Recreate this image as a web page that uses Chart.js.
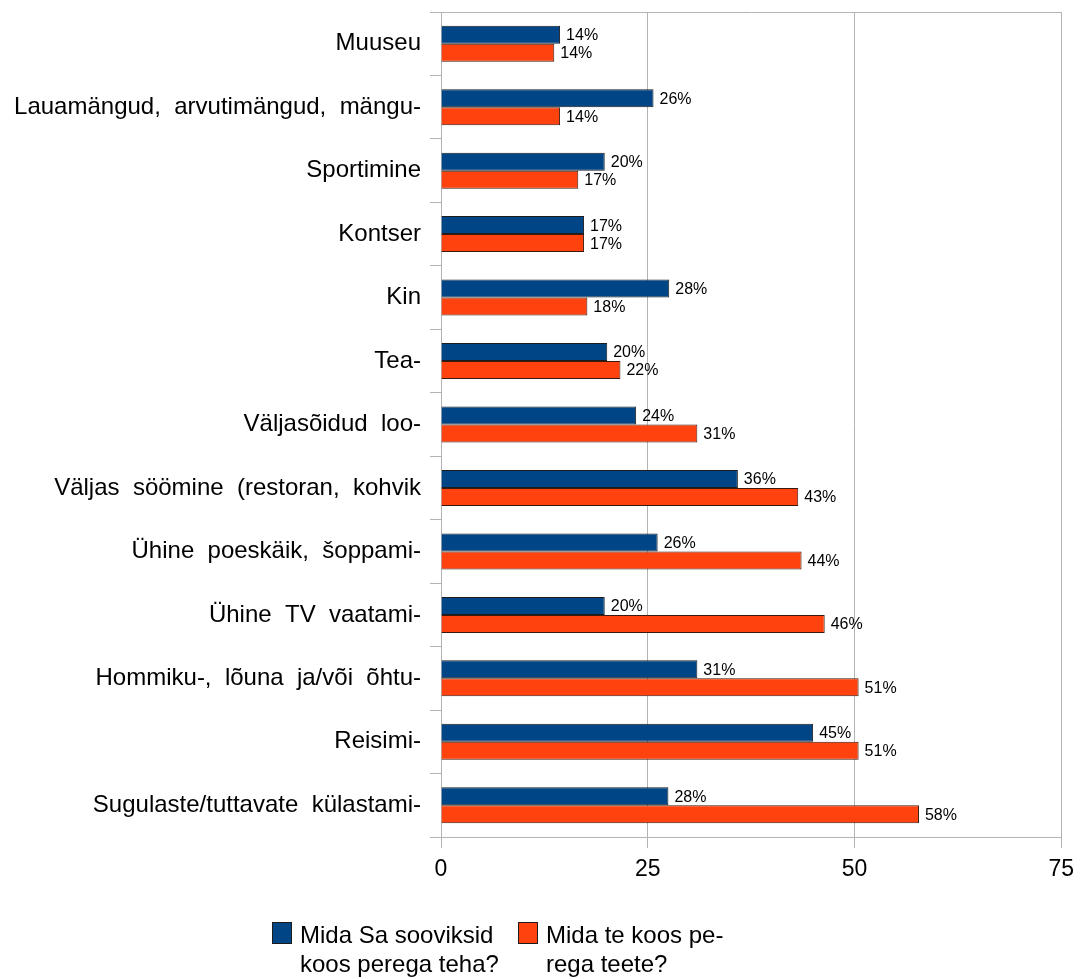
<!DOCTYPE html>
<html>
<head>
<meta charset="utf-8">
<title>Pere tegevused</title>
<script src="https://cdn.jsdelivr.net/npm/chart.js@4.4.0/dist/chart.umd.min.js"></script>
<style>
    html, body { margin: 0; padding: 0; background: #fff; }
    #wrap { position: relative; width: 1082px; height: 979px; }
    #chart { position: absolute; left: 0; top: 0; }
    .legend-item {
        position: absolute;
        top: 920px;
        font: 24px "Liberation Sans", Arial, sans-serif;
        line-height: 29px;
        color: #000;
    }
    .legend-item .box {
        position: absolute;
        left: 0;
        top: 2px;
        width: 18px;
        height: 20px;
        border: 1px solid #1c1c1c;
    }
    .legend-item .txt { margin-left: 28px; white-space: nowrap; }
</style>
</head>
<body>
<div id="wrap">
    <canvas id="chart" width="1082" height="979"></canvas>
    <div id="legend"></div>
</div>
<script>
// ---- data ----
const categories = [
    'Muuseu',
    'Lauamängud,  arvutimängud,  mängu-',
    'Sportimine',
    'Kontser',
    'Kin',
    'Tea-',
    'Väljasõidud  loo-',
    'Väljas  söömine  (restoran,  kohvik',
    'Ühine  poeskäik,  šoppami-',
    'Ühine  TV  vaatami-',
    'Hommiku-,  lõuna  ja/või  õhtu-',
    'Reisimi-',
    'Sugulaste/tuttavate  külastami-'
];
// "Mida Sa sooviksid koos perega teha?"
const wishValues = [14.4, 25.7, 19.8, 17.3, 27.6, 20.1, 23.6, 35.9, 26.2, 19.8, 31.0, 45.0, 27.5];
// "Mida te koos perega teete?"
const doValues = [13.7, 14.4, 16.6, 17.3, 17.7, 21.7, 31.0, 43.2, 43.6, 46.4, 50.5, 50.5, 57.8];
const seriesNames = [
    ['Mida Sa sooviksid', 'koos perega teha?'],
    ['Mida te koos pe-', 'rega teete?']
];
const xTicks = [0, 25, 50, 75];

const GRID = '#b3b3b3';
const COLORS = ['#004586', '#ff420e'];
Chart.defaults.font.family = '"Liberation Sans", Arial, sans-serif';
Chart.defaults.color = '#000';

// percent labels at the end of each bar
const valueLabels = {
    id: 'valueLabels',
    afterDatasetsDraw(chart) {
        const ctx = chart.ctx;
        ctx.save();
        ctx.font = '16px "Liberation Sans", Arial, sans-serif';
        ctx.fillStyle = '#000';
        ctx.textBaseline = 'middle';
        chart.data.datasets.forEach((ds, i) => {
            chart.getDatasetMeta(i).data.forEach((bar, j) => {
                ctx.fillText(Math.round(ds.data[j]) + '%', bar.x + 6, bar.y + 1);
            });
        });
        ctx.restore();
    }
};

new Chart(document.getElementById('chart'), {
    type: 'bar',
    data: {
        labels: categories,
        datasets: [
            {
                label: seriesNames[0].join(' '),
                data: wishValues,
                backgroundColor: COLORS[0],
                borderColor: '#1c1c1c',
                borderWidth: 1,
                categoryPercentage: 0.567,
                barPercentage: 1
            },
            {
                label: seriesNames[1].join(' '),
                data: doValues,
                backgroundColor: COLORS[1],
                borderColor: '#3a1a10',
                borderWidth: 1,
                categoryPercentage: 0.567,
                barPercentage: 1
            }
        ]
    },
    options: {
        indexAxis: 'y',
        responsive: false,
        animation: false,
        layout: { padding: { top: 12, right: 17, left: 0, bottom: 94 } },
        scales: {
            x: {
                min: 0,
                max: 75,
                afterBuildTicks: s => { s.ticks = xTicks.map(v => ({ value: v })); },
                afterFit: s => { s.height = 48; },
                ticks: { font: { size: 23 }, padding: 8 },
                grid: { color: GRID, tickLength: 11 },
                border: { color: GRID }
            },
            y: {
                afterFit: s => {
                    s.width = 441;
                    s.paddingTop = 0;
                    s.paddingBottom = 0;
                },
                ticks: { font: { size: 24 }, padding: 9, autoSkip: false },
                grid: {
                    offset: true,
                    color: c => (c.type !== 'tick' || c.index === 0) ? GRID : 'transparent',
                    tickColor: GRID,
                    tickLength: 11
                },
                border: { color: GRID }
            }
        },
        plugins: {
            tooltip: { enabled: false },
            legend: { display: false }
        }
    },
    plugins: [valueLabels]
});

// legend as plain text under the chart
const legendLeft = [272, 518];
const legend = document.getElementById('legend');
seriesNames.forEach((lines, i) => {
    const item = document.createElement('div');
    item.className = 'legend-item';
    item.style.left = legendLeft[i] + 'px';
    item.innerHTML = `<span class="box" style="background:${COLORS[i]}"></span>` +
        `<div class="txt">${lines.join('<br>')}</div>`;
    legend.appendChild(item);
});
</script>
</body>
</html>
